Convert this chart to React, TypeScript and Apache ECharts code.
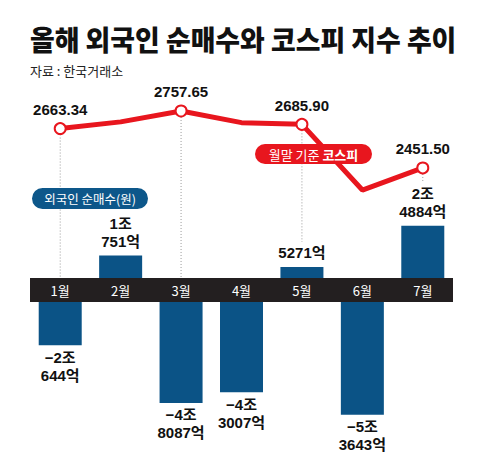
import React, { useEffect, useRef } from "react";
import * as echarts from "echarts";

const months = ["1월", "2월", "3월", "4월", "5월", "6월", "7월"];
// 외국인 순매수 (억원)
const netBuy = [-20644, 10751, -48087, -43007, 5271, -53643, 24884];
// 월말 기준 코스피
const kospi = [2663.34, 2699.18, 2757.65, 2695.05, 2685.9, 2332.64, 2451.5];
const kospiMarked = [true, false, true, false, true, false, true];

const TITLE = "올해 외국인 순매수와 코스피 지수 추이";
const SOURCE = "자료 : 한국거래소";
const BADGE_NET = "외국인 순매수(원)";
const BADGE_KOSPI_A = "월말 기준 ";
const BADGE_KOSPI_B = "코스피";

const BAR_MAX = 80000;
const RED = "#e8161e";
const BLUE = "#0b5386";
const NUM_FONT = "'Liberation Sans', Arial, 'Noto Sans CJK KR', sans-serif";
const KR_FONT = "'Noto Sans CJK KR', sans-serif";

function fmtNet(v: number): string {
  const sign = v < 0 ? "−" : "";
  const a = Math.abs(v);
  const jo = Math.floor(a / 10000);
  const eok = a % 10000;
  if (jo === 0) return `${sign}${eok}억`;
  return `${sign}${jo}조\n${eok}억`;
}

export default function App() {
  const ref = useRef<HTMLDivElement>(null);
  useEffect(() => {
    if (!ref.current) return;
    const chart = echarts.init(ref.current, null, { renderer: "svg" });
    const labelCommon = {
      show: true,
      fontFamily: NUM_FONT,
      fontWeight: "bold" as const,
      fontSize: 15,
      lineHeight: 18,
      color: "#111",
      formatter: (p: any) => fmtNet(p.value),
    };
    const option: any = {
      animation: false,
      backgroundColor: "#fff",
      grid: [
        { left: 30, width: 423, top: 110, height: 168 },
        { left: 30, width: 423, top: 302, height: 168 },
      ],
      xAxis: [
        {
          type: "category",
          data: months,
          gridIndex: 0,
          offset: 12,
          z: 0,
          axisLine: {
            show: true,
            onZero: false,
            lineStyle: { color: "#231f20", width: 24, cap: "butt" },
          },
          axisTick: { show: false },
          axisLabel: { show: false },
          splitLine: { show: false },
        },
        {
          type: "category",
          data: months,
          gridIndex: 1,
          position: "top",
          z: 10,
          axisLine: { show: false, onZero: false },
          axisTick: { show: false },
          axisLabel: {
            color: "#fff",
            fontSize: 13,
            fontFamily: KR_FONT,
            margin: 12,
            verticalAlign: "middle",
          },
          splitLine: { show: false },
        },
      ],
      yAxis: [
        { type: "value", gridIndex: 0, min: 0, max: BAR_MAX, show: false },
        { type: "value", gridIndex: 0, min: 1860, max: 2763, show: false },
        { type: "value", gridIndex: 1, min: -BAR_MAX, max: 0, show: false },
      ],
      series: [
        {
          type: "custom",
          xAxisIndex: 0,
          yAxisIndex: 1,
          z: 1,
          data: kospi
            .map((v, i) => [i, v, netBuy[i]])
            .filter((d, i) => kospiMarked[i]),
          renderItem: (params: any, api: any) => {
            const i = api.value(0);
            const k = api.value(1);
            const nb = api.value(2);
            const p = api.coord([i, k]);
            const cs = params.coordSys;
            const bottom = cs.y + cs.height;
            let endY = bottom;
            if (nb > 0) {
              const top = bottom - (nb / BAR_MAX) * cs.height;
              const lines = nb >= 10000 ? 2 : 1;
              endY = top - 5 - lines * 18 - 2;
            }
            return {
              type: "line",
              shape: { x1: p[0], y1: p[1], x2: p[0], y2: endY },
              style: { stroke: "#9a9a9a", lineWidth: 1, lineDash: [1, 2] },
            };
          },
        },
        {
          type: "bar",
          xAxisIndex: 0,
          yAxisIndex: 0,
          barWidth: 43,
          z: 2,
          itemStyle: { color: BLUE },
          data: netBuy.map((v) => (v > 0 ? v : "-")),
          label: { ...labelCommon, position: "top", distance: 5 },
        },
        {
          type: "bar",
          xAxisIndex: 1,
          yAxisIndex: 2,
          barWidth: 43,
          z: 2,
          itemStyle: { color: BLUE },
          data: netBuy.map((v) => (v < 0 ? v : "-")),
          label: { ...labelCommon, position: "bottom", distance: 3 },
        },
        {
          type: "line",
          xAxisIndex: 0,
          yAxisIndex: 1,
          z: 3,
          lineStyle: { color: RED, width: 5 },
          itemStyle: { color: "#fff", borderColor: RED, borderWidth: 2 },
          symbol: "circle",
          symbolSize: 11,
          data: kospi.map((v, i) =>
            kospiMarked[i]
              ? {
                  value: v,
                  label: {
                    show: true,
                    position: "top",
                    distance: 5,
                    fontFamily: NUM_FONT,
                    fontWeight: "bold",
                    fontSize: 15,
                    color: "#111",
                    formatter: (p: any) => Number(p.value).toFixed(2),
                  },
                }
              : { value: v, symbol: "none" }
          ),
        },
      ],
      graphic: [
        {
          type: "text",
          x: 30,
          y: 25,
          scaleX: 0.96,
          z: 10,
          style: {
            text: TITLE,
            fontFamily: KR_FONT,
            fontWeight: 900,
            fontSize: 28,
            fill: "#111",
          },
        },
        {
          type: "text",
          x: 30,
          y: 64,
          z: 10,
          style: {
            text: SOURCE,
            fontFamily: KR_FONT,
            fontSize: 13,
            fill: "#222",
          },
        },
        {
          type: "group",
          x: 32,
          y: 188,
          z: 10,
          children: [
            {
              type: "rect",
              shape: { x: 0, y: 0, width: 116, height: 21, r: 10.5 },
              style: { fill: "#0d578a" },
              z: 10,
            },
            {
              type: "text",
              x: 58,
              y: 10.5,
              z: 11,
              style: {
                text: BADGE_NET,
                fontFamily: KR_FONT,
                fontSize: 12.5,
                fill: "#fff",
                align: "center",
                verticalAlign: "middle",
              },
            },
          ],
        },
        {
          type: "group",
          x: 255,
          y: 144,
          z: 10,
          children: [
            {
              type: "rect",
              shape: { x: 0, y: 0, width: 117, height: 20, r: 10 },
              style: { fill: RED },
              z: 10,
            },
            {
              type: "text",
              x: 58.5,
              y: 10,
              z: 11,
              style: {
                text: `{a|${BADGE_KOSPI_A}}{b|${BADGE_KOSPI_B}}`,
                align: "center",
                verticalAlign: "middle",
                rich: {
                  a: { fontFamily: KR_FONT, fontSize: 13, fill: "#fff", color: "#fff" },
                  b: {
                    fontFamily: KR_FONT,
                    fontSize: 13,
                    fontWeight: "bold",
                    fill: "#fff",
                    color: "#fff",
                  },
                },
              },
            },
          ],
        },
      ],
    };
    chart.setOption(option);
    return () => chart.dispose();
  }, []);
  return (
    <div
      ref={ref}
      style={{ position: "absolute", left: 0, top: 0, width: 482, height: 475 }}
    />
  );
}
